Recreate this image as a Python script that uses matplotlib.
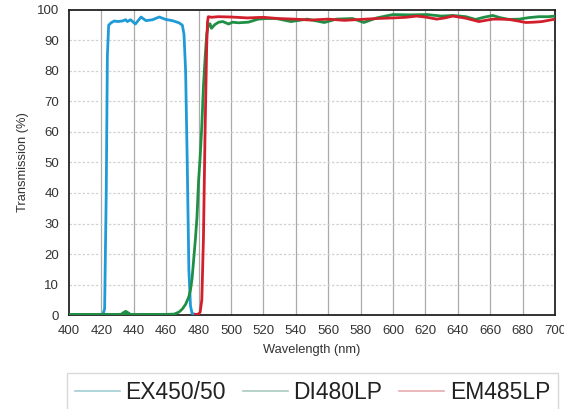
import matplotlib
matplotlib.use("Agg")
import matplotlib.pyplot as plt
from matplotlib.lines import Line2D

# ---- data ----
ex_wl = [419, 420, 421, 422, 423, 423.7, 424.5, 426, 428, 430, 433, 435, 436, 438, 441, 444.5,
         447.5, 451.6, 455.7, 459.7, 463.8, 467.9, 470, 471, 472, 473, 474, 475, 476, 478]
ex_t = [0.2, 0.2, 0.3, 2, 40, 85, 95, 95.8, 96.4, 96.2, 96.4, 96.8, 96.2, 96.8, 95.4, 97.7,
        96.5, 96.8, 97.7, 96.9, 96.5, 95.8, 95.0, 92, 80, 50, 15, 3, 0.5, 0.2]
# small bump near 435 nm at the base
ex_base_wl = [432, 434, 435, 436, 438]
ex_base_t = [0.2, 0.9, 1.2, 0.9, 0.2]

di_wl = [400, 460, 465, 468, 470, 472, 474, 475, 476, 478, 479, 480, 481, 482, 483, 484, 485, 486,
         487, 488, 490, 492.4, 495, 498.5, 501, 504.6, 510.7, 516.8, 522, 528, 537, 547, 557.6, 565,
         575, 582, 590, 600, 610, 621, 630, 637, 645, 651, 656, 661.6, 666, 671.6, 678, 684, 690, 696, 700]
di_t = [0.2, 0.2, 0.3, 1, 2, 3.5, 6, 8.2, 12, 24.6, 32, 44, 52, 62, 75, 84, 92, 95,
        95.5, 94.0, 95.2, 96.0, 96.2, 95.4, 96.0, 95.8, 96.0, 97.0, 97.2, 97.2, 96.2, 97.0, 95.9, 97.0,
        97.2, 95.9, 97.4, 98.5, 98.4, 98.5, 98.0, 98.2, 97.8, 96.9, 97.6, 98.2, 97.5, 96.9, 97.0, 97.5, 97.8, 97.8, 98.0]

em_wl = [478, 480, 481, 482, 483, 484, 485, 485.5, 486, 488, 492, 500, 510, 520, 529, 539, 549,
         560, 570, 580, 590, 600, 608, 614.7, 621, 627, 632, 637, 645, 653, 661.6, 666, 671.6, 677, 682,
         687, 692, 698, 700]
em_t = [0.2, 0.3, 1, 5, 25, 60, 88, 96, 97.8, 97.6, 97.8, 97.7, 97.4, 97.6, 97.2, 97.0, 96.7,
        97.0, 96.6, 96.9, 97.2, 97.4, 97.6, 98.0, 97.6, 97.0, 97.4, 98.0, 97.3, 96.2, 97.0, 97.0, 96.9, 96.4, 95.9,
        96.0, 96.2, 96.8, 97.0]

series_names = ["EX450/50", "DI480LP", "EM485LP"]
series_colors = ["#1e9bd7", "#1f8f45", "#d11f2b"]
legend_colors = ["#a3cdd2", "#a9cbc2", "#e8aaae"]

x_ticks = list(range(400, 701, 20))
y_ticks = list(range(0, 101, 10))

plt.rcParams['font.family'] = ['Liberation Sans', 'DejaVu Sans']

fig = plt.figure(figsize=(5.64, 4.09), dpi=100)
ax = fig.add_axes([0.1223, 0.2298, 0.8617, 0.7458])

ax.plot(ex_wl, ex_t, color=series_colors[0], lw=2.0, zorder=3)
ax.plot(ex_base_wl, ex_base_t, color=series_colors[1], lw=2.0, zorder=3)
ax.plot(di_wl, di_t, color=series_colors[1], lw=2.0, zorder=4)
ax.plot(em_wl, em_t, color=series_colors[2], lw=2.0, zorder=5)

ax.set_xlim(400, 700)
ax.set_ylim(0, 100)
ax.set_xticks(x_ticks)
ax.set_yticks(y_ticks)
ax.tick_params(axis='x', length=0, labelsize=9.5, labelcolor="#333333", pad=7)
ax.tick_params(axis='y', length=0, labelsize=9.5, labelcolor="#333333", pad=7)

for xv in x_ticks[1:-1]:
    ax.axvline(xv, color="#aaaaaa", lw=0.9, zorder=1)
for yv in y_ticks[1:-1]:
    ax.axhline(yv, color="#d2d2d2", lw=0.9, ls=(0, (2, 1.5)), zorder=1)

for s in ax.spines.values():
    s.set_color("#222222")
    s.set_linewidth(1.3)

ax.set_xlabel("Wavelength (nm)", fontsize=9.3, color="#333333", labelpad=5)
ax.set_ylabel("Transmission (%)", fontsize=9.3, color="#333333", labelpad=6)

handles = [Line2D([0], [0], color=c, lw=1.2) for c in legend_colors]
leg = fig.legend(handles, series_names, loc="upper center", ncol=3, mode="expand",
                 bbox_to_anchor=(0.1188, 0.0, 0.8706, 0.088), fontsize=16.5,
                 frameon=True, fancybox=False, edgecolor="#d0d0d0", handlelength=1.95,
                 handletextpad=0.25, borderaxespad=0.0, borderpad=0.35)
leg.get_frame().set_linewidth(1.0)
for t in leg.get_texts():
    t.set_color("#222222")

fig.savefig("out.png", dpi=100)
